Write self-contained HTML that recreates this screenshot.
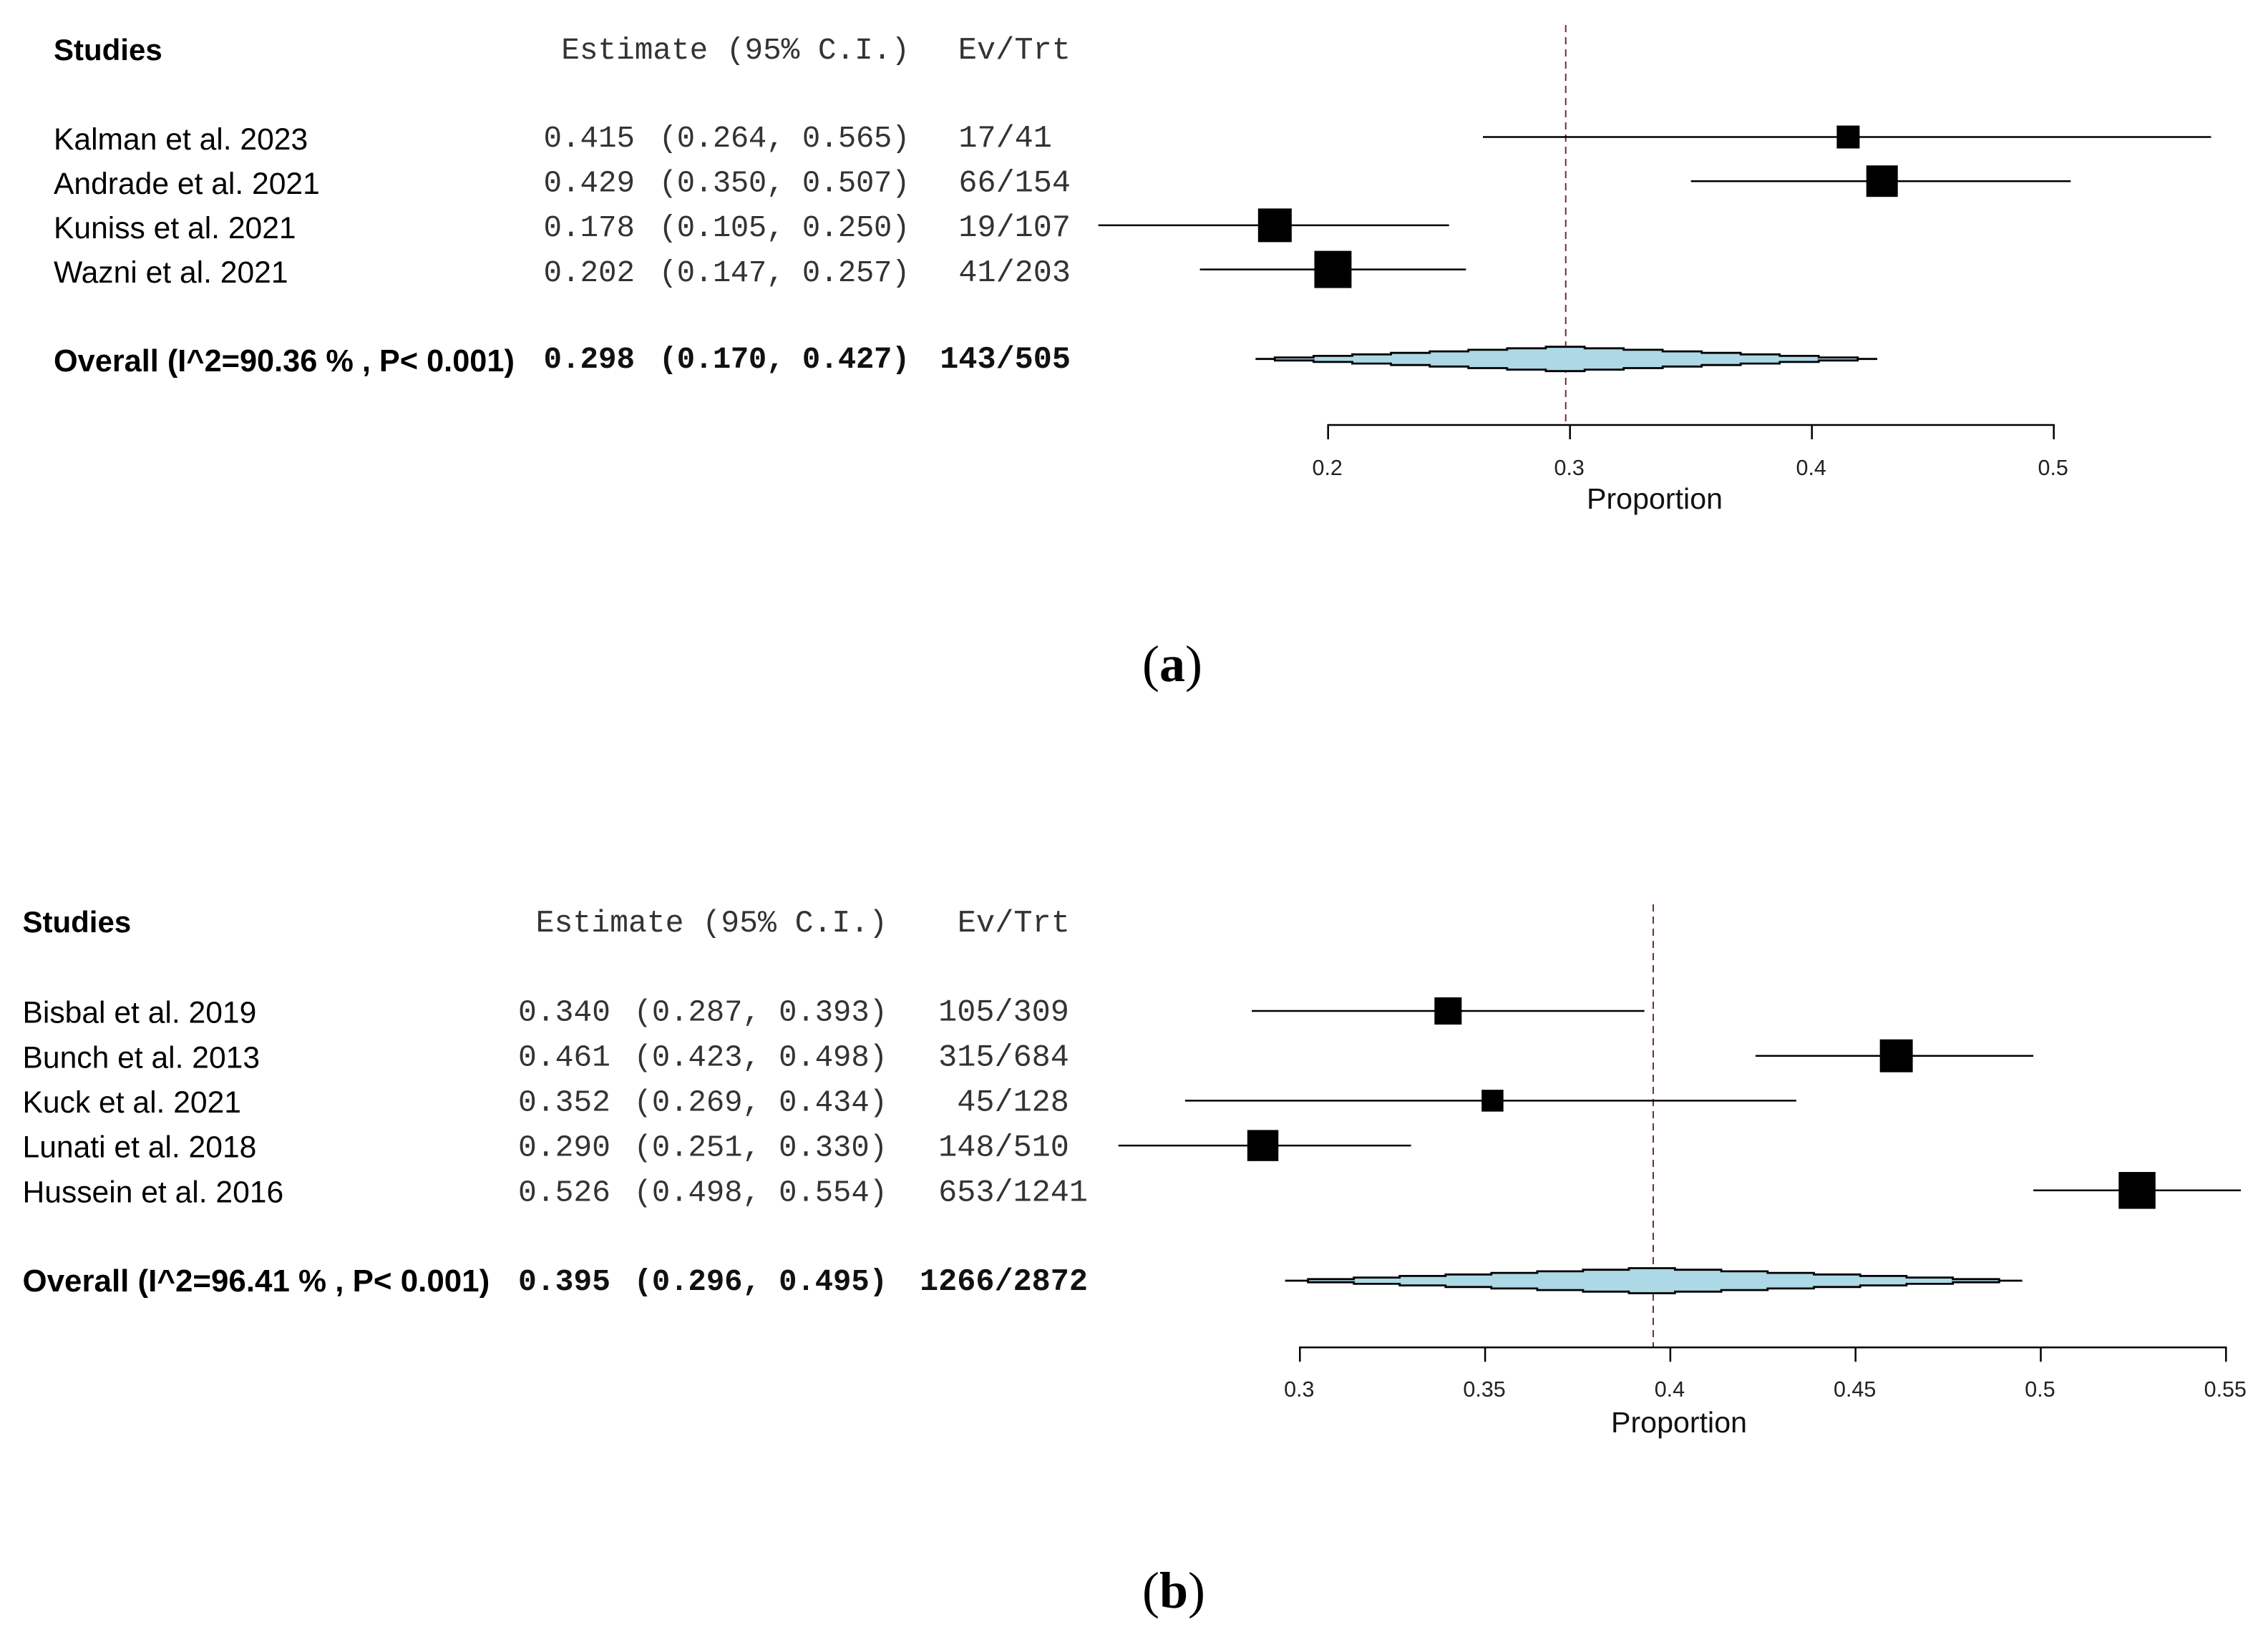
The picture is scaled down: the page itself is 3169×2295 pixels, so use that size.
<!DOCTYPE html>
<html lang="en">
<head>
<meta charset="utf-8">
<title>Forest plots of pooled proportion</title>
<style>
  html, body { margin: 0; padding: 0; background: #fff; }
  svg { display: block; }
  .sans { font-family: "Liberation Sans", sans-serif; }
  .mono { font-family: "Liberation Mono", monospace; }
  .serif { font-family: "Liberation Serif", serif; }
</style>
</head>
<body>
<svg id="figure" xmlns="http://www.w3.org/2000/svg" width="3169" height="2295" viewBox="0 0 3169 2295">
  <rect x="0" y="0" width="3169" height="2295" fill="#fff"/>
  <g id="panel-a"></g>
  <g id="panel-b"></g>
  <text class="serif" x="1638" y="952" font-size="72" text-anchor="middle" fill="#000">(<tspan font-weight="bold">a</tspan>)</text>
  <text class="serif" x="1640" y="2247" font-size="72" text-anchor="middle" fill="#000">(<tspan font-weight="bold">b</tspan>)</text>
</svg>
<script>
// Panel (a) data
const studiesA = ["Kalman et al. 2023", "Andrade et al. 2021", "Kuniss et al. 2021", "Wazni et al. 2021"];
const estimatesA = [0.415, 0.429, 0.178, 0.202];
const lowersA = [0.264, 0.350, 0.105, 0.147];
const uppersA = [0.565, 0.507, 0.250, 0.257];
const eventsA = ["17/41\u00a0", "66/154", "19/107", "41/203"];
const weightsA = [13.0, 24.6, 28.1, 34.3];
const overallLabelA = "Overall (I^2=90.36 % , P< 0.001)";
const overallA = [0.298, 0.170, 0.427];
const overallEventsA = "143/505";
const ticksA = [0.2, 0.3, 0.4, 0.5];
const tickLabelsA = ["0.2", "0.3", "0.4", "0.5"];

// Panel (b) data
const studiesB = ["Bisbal et al. 2019", "Bunch et al. 2013", "Kuck et al. 2021", "Lunati et al. 2018", "Hussein et al. 2016"];
const estimatesB = [0.340, 0.461, 0.352, 0.290, 0.526];
const lowersB = [0.287, 0.423, 0.269, 0.251, 0.498];
const uppersB = [0.393, 0.498, 0.434, 0.330, 0.554];
const eventsB = ["105/309\u00a0", "315/684\u00a0", "45/128\u00a0", "148/510\u00a0", "653/1241"];
const weightsB = [16.0, 23.4, 10.3, 20.9, 29.4];
const overallLabelB = "Overall (I^2=96.41 % , P< 0.001)";
const overallB = [0.395, 0.296, 0.495];
const overallEventsB = "1266/2872";
const ticksB = [0.30, 0.35, 0.40, 0.45, 0.50, 0.55];
const tickLabelsB = ["0.3", "0.35", "0.4", "0.45", "0.5", "0.55"];

const SVG_NS = "http://www.w3.org/2000/svg";

function make(parent, tag, attrs, content) {
  const el = document.createElementNS(SVG_NS, tag);
  for (const k in attrs) el.setAttribute(k, attrs[k]);
  if (content !== undefined) el.textContent = content;
  parent.appendChild(el);
  return el;
}

function drawPanel(parent, d, g) {
  const x = v => g.x0 + (v - g.v0) * g.pxPerUnit;
  const rowMark = i => g.markTop + i * g.markStep;
  const rowSans = i => g.sansTop + i * g.sansStep;
  const rowMono = i => g.monoTop + i * g.monoStep;
  const ciText = (lo, hi) => "(" + lo.toFixed(3) + ", " + hi.toFixed(3) + ")";
  let el;

  // header text
  el = make(parent, "text", {class: "sans", x: g.labelX, y: g.headSansY, "font-size": 42, "font-weight": "bold", fill: "#000"}, "Studies");
  
  
  el = make(parent, "text", {class: "mono", x: g.ciEnd, y: g.headMonoY, "font-size": g.headFont, "text-anchor": "end", fill: "#333"}, "Estimate (95% C.I.)");
  
  
  el = make(parent, "text", {class: "mono", x: g.evEnd, y: g.headMonoY, "font-size": 43.7, "text-anchor": "end", fill: "#333"}, "Ev/Trt");
  
  

  // reference line at the pooled estimate
  el = make(parent, "line", {x1: x(d.overall[0]) + g.refNudge, x2: x(d.overall[0]) + g.refNudge, y1: g.refTop, y2: g.axisY, stroke: "#6b3038", "stroke-width": 2, "stroke-dasharray": "10 7"});
  
  

  // study rows
  d.studies.forEach((name, i) => {
    let t = make(parent, "text", {class: "sans", x: g.labelX, y: rowSans(i), "font-size": 42.6, fill: "#000"}, name);
    
    
    t = make(parent, "text", {class: "mono", x: g.estEnd, y: rowMono(i), "font-size": g.estFont, "text-anchor": "end", fill: "#333"}, d.estimates[i].toFixed(3));
    
    
    t = make(parent, "text", {class: "mono", x: g.ciEnd, y: rowMono(i), "font-size": 42.2, "letter-spacing": g.ciSpacing, "text-anchor": "end", fill: "#333"}, ciText(d.lowers[i], d.uppers[i]));
    
    
    t = make(parent, "text", {class: "mono", x: g.evEnd2, y: rowMono(i), "font-size": 43.5, "text-anchor": "end", fill: "#333"}, d.events[i]);
    
    

    const line = make(parent, "line", {x1: x(d.lowers[i]), x2: x(d.uppers[i]), y1: rowMark(i), y2: rowMark(i), stroke: "#000", "stroke-width": 2.5});
    
    
    const side = Math.sqrt(d.weights[i]) * g.squareScale;
    const sq = make(parent, "rect", {x: x(d.estimates[i]) - side / 2, y: rowMark(i) - side / 2, width: side, height: side, fill: "#000"});
    
    
  });

  // overall row
  el = make(parent, "text", {class: "sans", x: g.labelX, y: g.overallSansY, "font-size": g.overallFont, "font-weight": "bold", fill: "#000"}, d.overallLabel);
  
  
  el = make(parent, "text", {class: "mono", x: g.estEnd, y: g.overallMonoY, "font-size": g.estFont, "font-weight": "bold", "text-anchor": "end", fill: "#111"}, d.overall[0].toFixed(3));
  
  
  el = make(parent, "text", {class: "mono", x: g.ciEnd, y: g.overallMonoY, "font-size": 42.2, "letter-spacing": g.ciSpacing, "font-weight": "bold", "text-anchor": "end", fill: "#111"}, ciText(d.overall[1], d.overall[2]));
  
  
  el = make(parent, "text", {class: "mono", x: g.evEnd2, y: g.overallMonoY, "font-size": 43.5, "font-weight": "bold", "text-anchor": "end", fill: "#111"}, d.overallEvents);
  
  

  // stepped pooled-estimate diamond
  const cx = x(d.overall[0]), lo = x(d.overall[1]), hi = x(d.overall[2]);
  const leftStep = (cx - lo) / 8, rightStep = (hi - cx) / 8;
  const hAt = k => g.diamondH * (1 - k / 8);
  const cy = g.diamondY;
  const top = [[lo, cy], [cx - 7.5 * leftStep, cy]];
  const bottom = [[lo, cy], [cx - 7.5 * leftStep, cy]];
  for (let k = 7; k >= 1; k--) {
    const a = cx - (k + 0.5) * leftStep, b = cx - (k - 0.5) * leftStep;
    top.push([a, cy - hAt(k)], [b, cy - hAt(k)]);
    bottom.push([a, cy + hAt(k)], [b, cy + hAt(k)]);
  }
  top.push([cx - 0.5 * leftStep, cy - hAt(0)], [cx + 0.5 * rightStep, cy - hAt(0)]);
  bottom.push([cx - 0.5 * leftStep, cy + hAt(0)], [cx + 0.5 * rightStep, cy + hAt(0)]);
  for (let k = 1; k <= 7; k++) {
    const a = cx + (k - 0.5) * rightStep, b = cx + (k + 0.5) * rightStep;
    top.push([a, cy - hAt(k)], [b, cy - hAt(k)]);
    bottom.push([a, cy + hAt(k)], [b, cy + hAt(k)]);
  }
  top.push([cx + 7.5 * rightStep, cy], [hi, cy]);
  bottom.push([cx + 7.5 * rightStep, cy]);
  const pts = top.concat(bottom.reverse()).map(p => p[0].toFixed(1) + "," + p[1].toFixed(1)).join(" ");
  el = make(parent, "polygon", {points: pts, fill: "#add8e6", stroke: "#000", "stroke-width": 2.8, "stroke-linejoin": "miter"});
  
  

  // axis
  const first = d.ticks[0], last = d.ticks[d.ticks.length - 1];
  el = make(parent, "line", {x1: x(first) - 1.25, x2: x(last) + 1.25, y1: g.axisY, y2: g.axisY, stroke: "#000", "stroke-width": 2.5});
  
  
  d.ticks.forEach((tv, i) => {
    const tk = make(parent, "line", {x1: x(tv), x2: x(tv), y1: g.axisY, y2: g.axisY + 20, stroke: "#000", "stroke-width": 2.5});
    
    
    const lb = make(parent, "text", {class: "sans", x: x(tv) - 1, y: g.tickLabelY, "font-size": 30.5, "text-anchor": "middle", fill: "#222"}, d.tickLabels[i]);
    
    
  });
  el = make(parent, "text", {class: "sans", x: g.titleX, y: g.titleY, "font-size": 41.2, "text-anchor": "middle", fill: "#111"}, "Proportion");
  
  
}

drawPanel(document.getElementById("panel-a"), {
  studies: studiesA, estimates: estimatesA, lowers: lowersA, uppers: uppersA, events: eventsA,
  weights: weightsA, overallLabel: overallLabelA, overall: overallA, overallEvents: overallEventsA,
  ticks: ticksA, tickLabels: tickLabelsA
}, {
  x0: 1855.7, v0: 0.2, pxPerUnit: 3380, squareScale: 8.87,
  labelX: 75, estEnd: 887, estFont: 42.5, ciEnd: 1271, ciSpacing: -0.3, evEnd: 1496, evEnd2: 1496,
  headFont: 42.7, overallFont: 43.3,
  headSansY: 84, headMonoY: 82,
  markTop: 191.5, markStep: 61.7, sansTop: 209, sansStep: 62, monoTop: 205, monoStep: 62.6,
  overallSansY: 519, overallMonoY: 514,
  diamondY: 501.7, diamondH: 17,
  refTop: 35, refNudge: 0.8, axisY: 594, tickLabelY: 664, titleX: 2312, titleY: 711
});

drawPanel(document.getElementById("panel-b"), {
  studies: studiesB, estimates: estimatesB, lowers: lowersB, uppers: uppersB, events: eventsB,
  weights: weightsB, overallLabel: overallLabelB, overall: overallB, overallEvents: overallEventsB,
  ticks: ticksB, tickLabels: tickLabelsB
}, {
  x0: 1816.3, v0: 0.3, pxPerUnit: 5176, squareScale: 9.5,
  labelX: 31.5, estEnd: 853, estFont: 43, ciEnd: 1240, ciSpacing: 0, evEnd: 1495, evEnd2: 1520,
  headFont: 43.1, overallFont: 43.9,
  headSansY: 1303, headMonoY: 1302,
  markTop: 1413, markStep: 62.7, sansTop: 1429.6, sansStep: 62.7, monoTop: 1426.4, monoStep: 63,
  overallSansY: 1805, overallMonoY: 1803,
  diamondY: 1790, diamondH: 17.5,
  refTop: 1264, refNudge: 2, axisY: 1883.3, tickLabelY: 1952, titleX: 2346, titleY: 2002
});
</script>
</body>
</html>
